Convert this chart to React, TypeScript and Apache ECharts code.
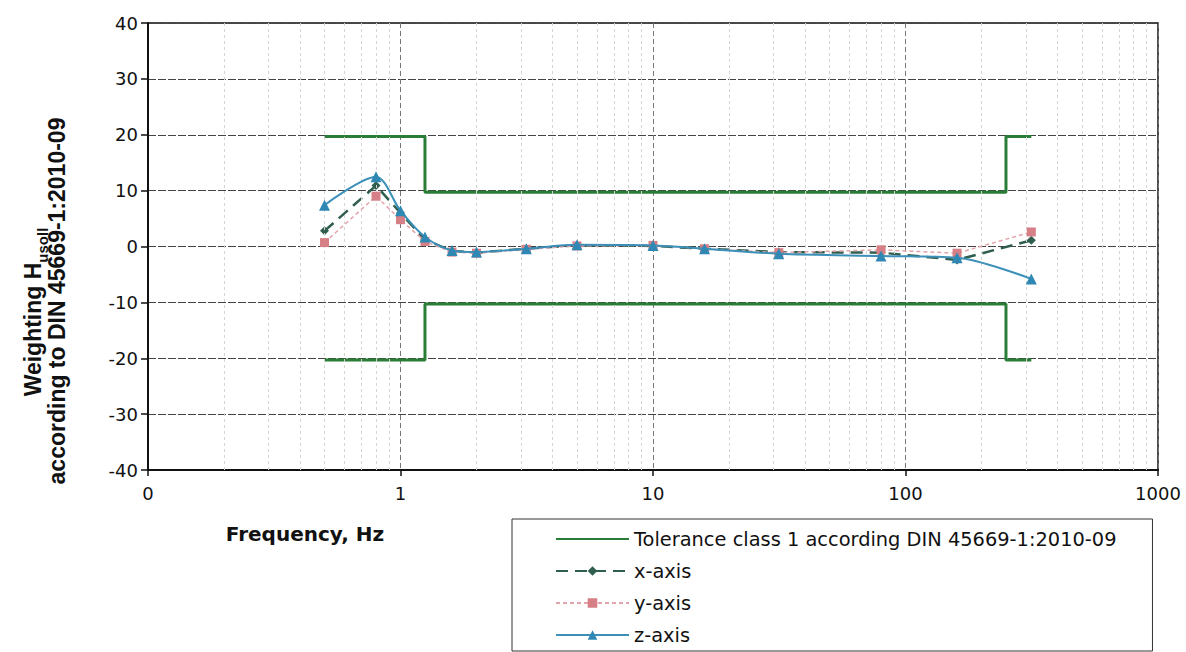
import { useEffect, useRef } from 'react';
import * as echarts from 'echarts';

// Frequencies of the measured points (Hz)
const frequencies = [0.5, 0.8, 1, 1.25, 1.6, 2, 3.15, 5, 10, 16, 31.5, 80, 160, 315];
// Measured weighting per axis
const xAxisValues = [2.8, 10.9, 6.0, 1.2, -0.8, -1.1, -0.4, 0.2, 0.1, -0.4, -1.0, -1.1, -2.4, 1.1];
const yAxisValues = [0.7, 9.0, 4.8, 0.9, -1.0, -1.2, -0.5, 0.1, 0.2, -0.4, -1.1, -0.6, -1.2, 2.6];
const zAxisValues = [7.4, 12.5, 6.4, 1.7, -0.7, -1.0, -0.4, 0.3, 0.2, -0.4, -1.3, -1.7, -2.0, -5.8];

// Tolerance band (step lines)
const toleranceFreq = [0.5, 1.25, 1.25, 250, 250, 315];
const toleranceUpper = [19.7, 19.7, 9.7, 9.7, 19.7, 19.7];
const toleranceLower = [-20.3, -20.3, -10.3, -10.3, -20.3, -20.3];

// Minor vertical grid positions (log decades)
const minorGridFreqs = [
  0.2, 0.3, 0.4, 0.5, 0.6, 0.7, 0.8, 0.9,
  2, 3, 4, 5, 6, 7, 8, 9,
  20, 30, 40, 50, 60, 70, 80, 90,
  200, 300, 400, 500, 600, 700, 800, 900,
];

const TOL_NAME = 'Tolerance class 1 according DIN 45669-1:2010-09';

const FONT = 'DejaVu Sans';

export default function App() {
  const ref = useRef<HTMLDivElement>(null);
  useEffect(() => {
    if (!ref.current) return;
    const chart = echarts.init(ref.current, null, { renderer: 'svg' });
    const pairs = (xs: number[], ys: number[]) => xs.map((x, i) => [x, ys[i]]);
    const tolColor = '#2a7d36';
    chart.setOption({
      animation: false,
      backgroundColor: '#fff',
      textStyle: { fontFamily: FONT },
      grid: {
        left: 148, right: 28, top: 23, bottom: 182,
        show: true, borderColor: '#111', borderWidth: 1.5,
      },
      legend: {
        data: [
          { name: TOL_NAME, itemStyle: { opacity: 0 } },
          { name: 'x-axis' },
          { name: 'y-axis' },
          { name: 'z-axis' },
        ],
        orient: 'vertical',
        left: 512,
        top: 519,
        itemWidth: 73,
        itemHeight: 12,
        itemGap: 12,
        padding: [10, 36, 6, 43],
        borderColor: '#333',
        borderWidth: 1,
        textStyle: { fontFamily: FONT, fontSize: 19.4, color: '#111', lineHeight: 20 },
      },
      xAxis: {
        type: 'log',
        logBase: 10,
        min: 0.1,
        max: 1000,
        axisLine: { onZero: false, lineStyle: { color: '#111', width: 2 } },
        axisTick: { show: true, inside: false, length: 6, lineStyle: { color: '#111', width: 1.5 } },
        axisLabel: {
          fontFamily: FONT, fontSize: 18, color: '#111', margin: 14,
          formatter: (v: number) => (v < 1 ? '0' : String(Math.round(v))),
        },
        splitLine: { show: true, lineStyle: { color: '#777', type: [5, 3], width: 1 } },
      },
      yAxis: {
        type: 'value',
        min: -40,
        max: 40,
        interval: 10,
        axisLine: { show: true, lineStyle: { color: '#111', width: 2 } },
        axisTick: { show: true, inside: false, length: 7, lineStyle: { color: '#111', width: 1.5 } },
        axisLabel: { fontFamily: FONT, fontSize: 18, color: '#111', margin: 10 },
        splitLine: { show: true, lineStyle: { color: '#444', type: [8, 2], width: 1 } },
      },
      graphic: [
        {
          type: 'text',
          x: 31, y: 312, rotation: Math.PI / 2,
          style: {
            text: '{a|Weighting H}{s|usoll}',
            align: 'center', verticalAlign: 'middle',
            rich: {
              a: { fontFamily: 'Liberation Sans', fontWeight: 'bold', fontSize: 23, fill: '#111', lineHeight: 27, verticalAlign: 'bottom' },
              s: { fontFamily: 'Liberation Sans', fontWeight: 'bold', fontSize: 15, fill: '#111', lineHeight: 19, verticalAlign: 'bottom', padding: [0, 0, -5, 0] },
            },
          },
        },
        {
          type: 'text',
          x: 57, y: 301, rotation: Math.PI / 2,
          style: {
            text: 'according to DIN 45669-1:2010-09',
            fontFamily: 'Liberation Sans', fontWeight: 'bold', fontSize: 23, fill: '#111',
            align: 'center', verticalAlign: 'middle',
          },
        },
        {
          type: 'text',
          x: 305, y: 534,
          style: {
            text: 'Frequency, Hz',
            fontFamily: FONT, fontWeight: 'bold', fontSize: 20, fill: '#111',
            align: 'center', verticalAlign: 'middle',
          },
        },
      ],
      series: [
        {
          name: '__minor',
          type: 'line',
          data: [],
          silent: true,
          markLine: {
            silent: true,
            symbol: 'none',
            label: { show: false },
            lineStyle: { color: '#d4d4d4', type: [3, 3], width: 1 },
            data: minorGridFreqs.map((f) => ({ xAxis: f })),
          },
        },
        {
          name: TOL_NAME,
          type: 'line',
          data: pairs(toleranceFreq, toleranceUpper),
          showSymbol: false,
          symbol: 'none',
          color: tolColor,
          lineStyle: { color: tolColor, width: 3 },
          z: 3,
        },
        {
          name: TOL_NAME,
          type: 'line',
          data: pairs(toleranceFreq, toleranceLower),
          showSymbol: false,
          symbol: 'none',
          color: tolColor,
          lineStyle: { color: tolColor, width: 3 },
          z: 3,
        },
        {
          name: 'x-axis',
          type: 'line',
          data: pairs(frequencies, xAxisValues),
          symbol: 'diamond',
          symbolSize: 9,
          color: '#2f5e4e',
          itemStyle: { color: '#2f5e4e' },
          lineStyle: { color: '#2f5e4e', width: 2.5, type: [12, 7] },
          z: 4,
        },
        {
          name: 'y-axis',
          type: 'line',
          data: pairs(frequencies, yAxisValues),
          symbol: 'rect',
          symbolSize: 9,
          color: '#d77f86',
          itemStyle: { color: '#d77f86' },
          lineStyle: { color: '#e3a3aa', width: 1.5, type: [4, 3] },
          z: 5,
        },
        {
          name: 'z-axis',
          type: 'line',
          data: pairs(frequencies, zAxisValues),
          symbol: 'triangle',
          symbolSize: 11,
          smooth: 0.3,
          color: '#2f88b4',
          itemStyle: { color: '#2f88b4' },
          lineStyle: { color: '#3b8fb8', width: 2 },
          z: 6,
        },
      ],
    });
    return () => chart.dispose();
  }, []);
  return (
    <div
      ref={ref}
      style={{ position: 'fixed', left: 0, top: 0, width: 1186, height: 652, background: '#fff' }}
    />
  );
}
